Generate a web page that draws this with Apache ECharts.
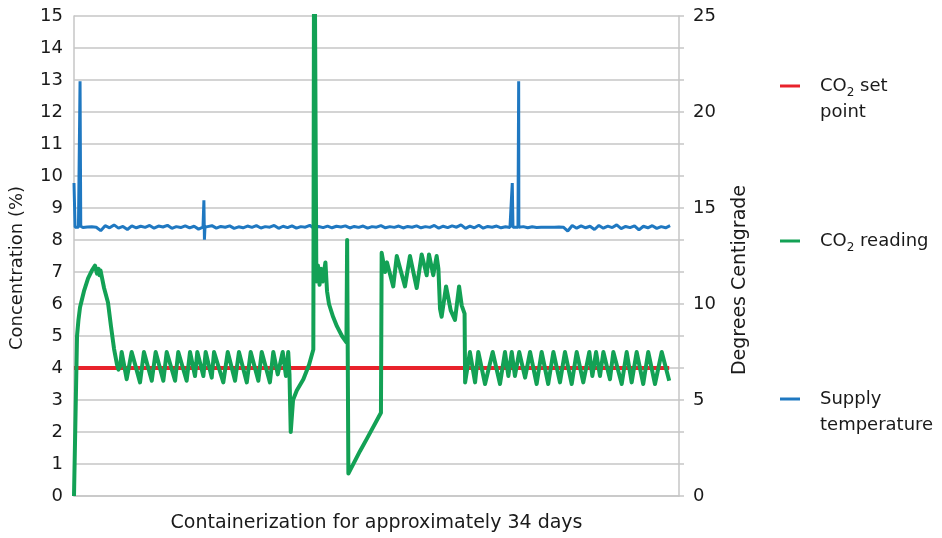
<!DOCTYPE html>
<html>
<head>
<meta charset="utf-8">
<script src="https://cdn.jsdelivr.net/npm/echarts@6/dist/echarts.min.js"></script>
<style>
  html, body { margin: 0; padding: 0; background: #fff; }
  #myChart { width: 942px; height: 538px; }
</style>
</head>
<body>
<div id="myChart"></div>
<script>
// days since containerization -> CO2 %
const setPointDays = [0, 33.45];
const setPointValues = [4, 4];

const co2Days = [
  0, 0.17, 0.25, 0.34, 0.56, 0.79, 1.01, 1.18, 1.29, 1.38, 1.43, 1.49, 1.69, 1.91, 2.08, 2.25, 2.42, 2.50, 2.59,
  2.68, 2.96, 3.24, 3.71, 3.93, 4.37, 4.59, 5.02, 5.21, 5.68, 5.86, 6.33, 6.52, 6.80, 6.93, 7.27, 7.40, 7.74,
  7.87, 8.39, 8.64, 9.05, 9.27, 9.71, 9.93, 10.36, 10.55, 11.01, 11.20, 11.45, 11.73, 11.91, 12.04, 12.11,
  12.18, 12.31, 12.52, 12.89, 13.21, 13.45, 13.50, 13.62, 13.71, 13.80, 13.88, 13.97, 14.08, 14.13, 14.22,
  14.33, 14.56, 14.78, 15.06, 15.31, 15.35, 15.42, 16.07, 16.47, 17.25, 17.29, 17.48, 17.59, 17.94, 18.14,
  18.60, 18.88, 19.26, 19.54, 19.82, 19.95, 20.19, 20.38, 20.48, 20.57, 20.66, 20.91, 21.17, 21.41, 21.64,
  21.79, 21.95, 21.98, 22.25, 22.54, 22.72, 23.10, 23.53, 23.94, 24.22, 24.41, 24.60, 24.78, 25.02, 25.35,
  25.63, 26.00, 26.28, 26.65, 26.94, 27.31, 27.59, 27.97, 28.25, 28.62, 28.96, 29.13, 29.34, 29.56, 29.75,
  30.12, 30.31, 30.78, 31.06, 31.34, 31.62, 31.99, 32.27, 32.65, 33.03, 33.45
];
const co2Values = [
  0, 5.0, 5.5, 5.9, 6.4, 6.8, 7.05, 7.2, 6.95, 7.1, 6.9, 7.05, 6.5, 6.05, 5.3, 4.6, 4.1, 3.95, 4.05,
  4.5, 3.65, 4.5, 3.55, 4.5, 3.6, 4.5, 3.6, 4.5, 3.6, 4.5, 3.6, 4.5, 3.75, 4.5, 3.75, 4.5, 3.7,
  4.5, 3.55, 4.5, 3.6, 4.5, 3.55, 4.5, 3.6, 4.5, 3.55, 4.5, 3.8, 4.5, 3.75, 4.5, 3.8,
  2.0, 3.0, 3.3, 3.65, 4.1, 4.58, 20, 6.7, 7.2, 6.6, 7.1, 6.7, 6.7, 7.3, 6.4,
  6.0, 5.6, 5.3, 5.0, 4.8, 8.0, 0.7, 1.4, 1.8, 2.6, 7.6, 7.0, 7.3, 6.55, 7.5,
  6.55, 7.5, 6.5, 7.55, 6.9, 7.55, 6.9, 7.5, 7.1, 5.85, 5.6, 6.55, 5.8, 5.5, 6.55,
  5.95, 5.7, 3.55, 4.5, 3.55, 4.5, 3.5, 4.5, 3.5, 4.5, 3.75, 4.5, 3.75, 4.5, 3.7,
  4.5, 3.5, 4.5, 3.5, 4.5, 3.55, 4.5, 3.5, 4.5, 3.55, 4.5, 3.75, 4.5, 3.75, 4.5,
  3.65, 4.5, 3.5, 4.5, 3.55, 4.5, 3.5, 4.5, 3.5, 4.5, 3.6
];

// supply air temperature, degrees C, one sample every quarter day
const tempStep = 0.25;
const tempSamples = [
  16.3, 14.00, 13.98, 14.01, 14.02, 14.00, 13.82, 14.08, 13.97, 14.12, 13.95, 14.04, 13.88, 14.07, 13.97,
  14.05, 13.99, 14.09, 13.95, 14.06, 14.01, 14.10, 13.94, 14.03, 13.98, 14.07, 13.96, 14.05, 13.90, 14.00,
  14.03, 14.08, 13.95, 14.04, 14.00, 14.07, 13.94, 14.02, 13.97, 14.06, 13.99, 14.08, 13.96, 14.03, 14.00,
  14.09, 13.94, 14.05, 13.98, 14.07, 13.95, 14.03, 14.00, 14.10, 13.93, 14.04, 13.98, 14.06, 13.97, 14.05,
  14.01, 14.07, 13.96, 14.04, 13.99, 14.06, 13.95, 14.03, 14.00, 14.08, 13.97, 14.03, 13.99, 14.06, 13.96,
  14.04, 14.00, 14.07, 13.97, 14.03, 13.99, 14.09, 13.95, 14.05, 13.98, 14.07, 14.00, 14.12, 13.94, 14.06,
  13.97, 14.10, 13.95, 14.04, 14.00, 14.06, 13.97, 14.02, 13.99, 14.03, 14.00, 14.03, 13.97, 14.02, 13.99,
  14.00, 14.00, 14.00, 14.00, 14.01, 14.00, 13.80, 14.09, 13.95, 14.07, 13.97, 14.05, 13.88, 14.09, 13.95,
  14.06, 13.98, 14.12, 13.93, 14.04, 13.98, 14.07, 13.86, 14.05, 13.97, 14.08, 13.94, 14.03, 13.97, 14.08
];
const tempSpikeDays = [0.06, 0.30, 0.34, 0.38, 7.27, 7.30, 7.33, 7.36, 24.60, 24.63, 24.67, 24.95, 24.99, 25.03];
const tempSpikeValues = [14.0, 14.0, 21.6, 14.05, 14.0, 15.4, 13.35, 14.0, 14.0, 16.3, 14.0, 14.0, 21.6, 14.0];

const rightLabels = [0, 5, 10, 15, 20, 25];
const seriesNames = ['CO2 set point', 'CO2 reading', 'Supply temperature'];

const FONT = 'DejaVu Sans';
const INK = '#1a1a1a';

const zip = (xs, ys) => xs.map((x, i) => [x, ys[i]]);
const tempData = tempSamples.map((v, i) => [i * tempStep, v])
  .concat(zip(tempSpikeDays, tempSpikeValues))
  .sort((a, b) => a[0] - b[0]);

const richText = {
  f: { fontFamily: FONT, fontSize: 18, color: INK, lineHeight: 26, padding: [0, 0, 0, 15] },
  a: { fontFamily: FONT, fontSize: 18, color: INK, lineHeight: 26 },
  s: { fontFamily: FONT, fontSize: 12, color: INK, lineHeight: 14, verticalAlign: 'bottom' }
};
const legendLabels = {
  'CO2 set point': '{a| }\n{f|CO}{s|2}{a| set}\n{f|point}',
  'CO2 reading': '{f|CO}{s|2}{a| reading}',
  'Supply temperature': '{a| }\n{f|Supply}\n{f|temperature}'
};
function makeLegend(name, top) {
  return {
    data: [name],
    left: 780,
    top: top,
    padding: 0,
    orient: 'vertical',
    icon: 'rect',
    itemWidth: 20,
    itemHeight: 3,
    selectedMode: false,
    formatter: n => legendLabels[n],
    textStyle: { rich: richText }
  };
}

const myChart = echarts.init(document.getElementById('myChart'));

const option = {
  animation: false,
  backgroundColor: '#fff',
  textStyle: { fontFamily: FONT },
  grid: { left: 74, right: 263, top: 16, bottom: 41 },
  legend: [
    makeLegend(seriesNames[0], 51),
    makeLegend(seriesNames[1], 232),
    makeLegend(seriesNames[2], 364)
  ],
  xAxis: {
    type: 'value',
    min: 0,
    max: 34,
    name: 'Containerization for approximately 34 days',
    nameLocation: 'middle',
    nameGap: 18,
    nameTextStyle: { fontFamily: FONT, fontSize: 19, color: INK },
    axisLine: { show: true, lineStyle: { color: '#c6c6c6', width: 1.5 } },
    axisTick: { show: false },
    axisLabel: { show: false },
    splitLine: { show: false }
  },
  yAxis: [
    {
      type: 'value',
      min: 0,
      max: 15,
      interval: 1,
      name: 'Concentration (%)',
      nameLocation: 'middle',
      nameRotate: 90,
      nameGap: 48,
      // the title sits a little below the middle of the axis
      nameTextStyle: { fontFamily: FONT, fontSize: 18, color: INK, padding: [0, 24, 0, 0] },
      axisLine: { show: true, lineStyle: { color: '#c6c6c6', width: 1.5 } },
      axisTick: { show: false },
      axisLabel: { margin: 11, fontFamily: FONT, fontSize: 18, color: INK },
      splitLine: { show: true, lineStyle: { color: '#c6c6c6', width: 1.5 } }
    },
    {
      type: 'value',
      position: 'right',
      min: 0,
      max: 25,
      interval: 25 / 15,
      name: 'Degrees Centigrade',
      nameLocation: 'middle',
      nameRotate: 90,
      nameGap: 52,
      nameTextStyle: { fontFamily: FONT, fontSize: 19, color: INK, padding: [0, 48, 0, 0] },
      axisLine: { show: true, lineStyle: { color: '#c6c6c6', width: 1.5 } },
      axisTick: { show: true, length: 5, lineStyle: { color: '#c6c6c6', width: 1.5 } },
      axisLabel: {
        margin: 14,
        fontFamily: FONT,
        fontSize: 18,
        color: INK,
        formatter: v => {
          const hit = rightLabels.find(t => Math.abs(t - v) < 0.01);
          return hit === undefined ? '' : String(hit);
        }
      },
      splitLine: { show: false }
    }
  ],
  series: [
    {
      name: seriesNames[0],
      type: 'line',
      yAxisIndex: 0,
      data: zip(setPointDays, setPointValues),
      symbol: 'none',
      color: '#e8222b',
      lineStyle: { width: 4, color: '#e8222b' }
    },
    {
      name: seriesNames[2],
      type: 'line',
      yAxisIndex: 1,
      data: tempData,
      symbol: 'none',
      color: '#1f78c1',
      lineStyle: { width: 3, color: '#1f78c1' }
    },
    {
      name: seriesNames[1],
      type: 'line',
      yAxisIndex: 0,
      data: zip(co2Days, co2Values),
      symbol: 'none',
      color: '#13a155',
      lineStyle: { width: 4, color: '#13a155', join: 'round' }
    }
  ]
};

myChart.setOption(option);
</script>
</body>
</html>
